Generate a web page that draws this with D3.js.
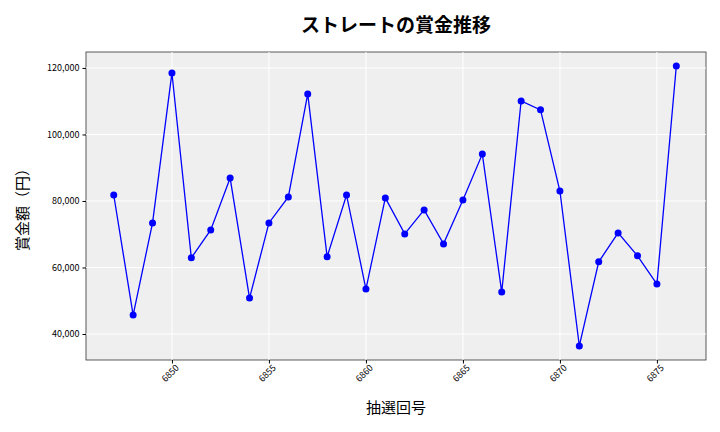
<!DOCTYPE html>
<html><head><meta charset="utf-8">
<script src="https://cdn.jsdelivr.net/npm/d3@7"></script>
<style>body{margin:0;background:#fff}text{font-family:"Noto Sans CJK JP","Noto Sans",sans-serif}</style>
</head><body>
<svg id="chart" width="720" height="432"></svg>
<script>
// draw numbers and prize values
const draws = d3.range(6847, 6877);
const prizes = [81800, 45700, 73400, 118500, 62900, 71300, 86900, 50800, 73400, 81200,
    112200, 63200, 81800, 53500, 80900, 70100, 77300, 67100, 80300, 94100,
    52600, 110100, 107400, 83000, 36400, 61700, 70400, 63500, 55000, 120600];
const xTicks = [6850, 6855, 6860, 6865, 6870, 6875];
const yTicks = [40000, 60000, 80000, 100000, 120000];

const svg = d3.select("#chart");
const plotL = 86, plotR = 706, plotT = 52, plotB = 360;

const x = d3.scaleLinear().domain([6845.57, 6877.53]).range([plotL, plotR]);
const y = d3.scaleLinear().domain([32180, 124800]).range([plotB, plotT]);

svg.append("rect").attr("x", plotL).attr("y", plotT)
    .attr("width", plotR - plotL).attr("height", plotB - plotT)
    .attr("fill", "#efefef").attr("stroke", "#333").attr("stroke-width", 0.8);

// grid
svg.append("g").selectAll("line").data(xTicks).join("line")
    .attr("x1", d => x(d)).attr("x2", d => x(d)).attr("y1", plotT).attr("y2", plotB)
    .attr("stroke", "#fff").attr("stroke-width", 1);
svg.append("g").selectAll("line").data(yTicks).join("line")
    .attr("x1", plotL).attr("x2", plotR).attr("y1", d => y(d)).attr("y2", d => y(d))
    .attr("stroke", "#fff").attr("stroke-width", 1);

// axes
const xAxis = svg.append("g").attr("transform", `translate(0,${plotB})`)
    .call(d3.axisBottom(x).tickValues(xTicks).tickFormat(d3.format("d")).tickSize(3.5));
xAxis.select(".domain").remove();
xAxis.selectAll("text").attr("transform", "rotate(-45)").attr("text-anchor", "end")
    .attr("dx", "-0.1em").attr("dy", "0.5em").style("font-size", "9px").attr("fill", "#000");

const yAxis = svg.append("g").attr("transform", `translate(${plotL},0)`)
    .call(d3.axisLeft(y).tickValues(yTicks).tickFormat(d3.format(",")).tickSize(3.5));
yAxis.select(".domain").remove();
yAxis.selectAll("text").style("font-size", "9px").attr("fill", "#000");

// line and points
const pts = draws.map((d, i) => [d, prizes[i]]);
svg.append("path").datum(pts)
    .attr("d", d3.line().x(d => x(d[0])).y(d => y(d[1])))
    .attr("fill", "none").attr("stroke", "#0000ff").attr("stroke-width", 1.3);
svg.append("g").selectAll("circle").data(pts).join("circle")
    .attr("cx", d => x(d[0])).attr("cy", d => y(d[1])).attr("r", 3.5).attr("fill", "#0000ff");

// labels
svg.append("text").attr("x", 396).attr("y", 32).attr("text-anchor", "middle")
    .style("font-size", "19px").style("font-weight", "bold").text("ストレートの賞金推移");
svg.append("text").attr("x", 396).attr("y", 413).attr("text-anchor", "middle")
    .style("font-size", "15px").text("抽選回号");
svg.append("text").attr("transform", "translate(28,206) rotate(-90)").attr("text-anchor", "middle")
    .style("font-size", "15px").text("賞金額（円）");
</script>
</body></html>
